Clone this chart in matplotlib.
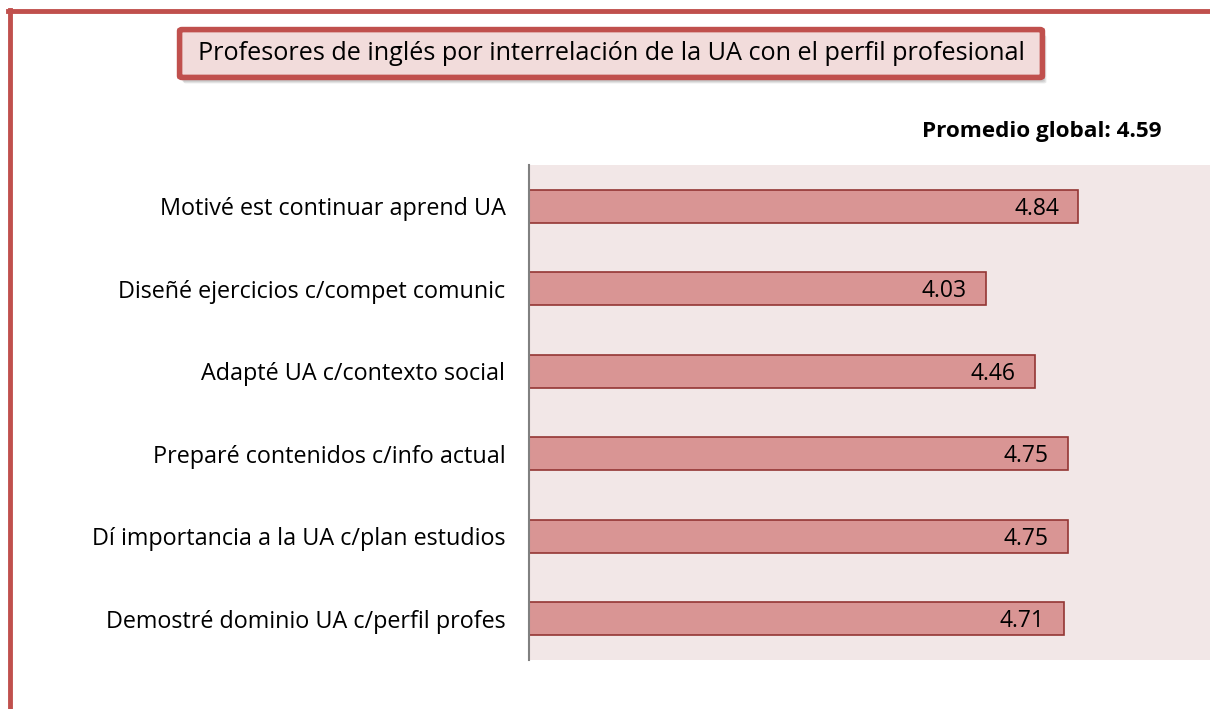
import matplotlib.pyplot as plt
from matplotlib.patches import FancyBboxPatch
from matplotlib.lines import Line2D

categorias = [
    "Motivé est continuar aprend UA",
    "Diseñé ejercicios c/compet comunic",
    "Adapté UA c/contexto social",
    "Preparé contenidos c/info actual",
    "Dí importancia a la UA c/plan estudios",
    "Demostré dominio UA c/perfil profes",
]
valores = [4.84, 4.03, 4.46, 4.75, 4.75, 4.71]
promedio_global = 4.59
titulo = "Profesores de inglés por interrelación de la UA con el perfil profesional"

plt.rcParams['font.family'] = ['Open Sans', 'DejaVu Sans']

W, H = 1210, 709
fig = plt.figure(figsize=(W / 100, H / 100), dpi=100)

# marco rojo exterior (solo izquierda y arriba visibles)
rojo = '#C0504D'
fig.add_artist(Line2D([10 / W, 10 / W], [0, 1 - 10 / H], transform=fig.transFigure, color=rojo, lw=3.5))
fig.add_artist(Line2D([8 / W, 1], [1 - 11 / H, 1 - 11 / H], transform=fig.transFigure, color=rojo, lw=3.5))

ax = fig.add_axes([529 / W, 1 - 660 / H, (W - 529) / W, 495 / H])
ax.set_facecolor('#F2E7E7')

pos = list(range(len(categorias)))
barras = ax.barh(pos, valores, height=0.4, color='#D99594', edgecolor='#943634', linewidth=1.2)
for y, v in zip(pos, valores):
    ax.text(v - 0.17, y + 0.03, f"{v:.2f}", ha='right', va='center', fontsize=16.5, color='black')

ax.set_xlim(0, 6)
ax.set_ylim(len(categorias) - 0.5, -0.5)
ax.set_yticks(pos)
ax.set_yticklabels(categorias, fontsize=16.8)
ax.tick_params(axis='y', length=0, pad=17)
ax.set_xticks([])
for lado in ['top', 'right', 'bottom']:
    ax.spines[lado].set_visible(False)
ax.spines['left'].set_color('#808080')
ax.spines['left'].set_linewidth(1.5)

# caja del titulo con sombra
x0, y0, x1, y1 = 182 / W, 1 - 76 / H, 1040 / W, 1 - 31 / H
for k, a in enumerate([0.12, 0.12, 0.12]):
    d = (k + 2) / W
    sombra = FancyBboxPatch((x0 + d, y0 - (k + 4) / H), x1 - x0, y1 - y0, boxstyle='round,pad=0.002',
                            transform=fig.transFigure, facecolor='#555555', edgecolor='none', alpha=a)
    fig.add_artist(sombra)
caja = FancyBboxPatch((x0, y0), x1 - x0, y1 - y0, boxstyle='round,pad=0.002',
                      transform=fig.transFigure, facecolor='#F2DCDB', edgecolor=rojo, linewidth=4)
fig.add_artist(caja)
fig.text((x0 + x1) / 2, (y0 + y1) / 2, titulo, ha='center', va='center', fontsize=18.2)

fig.text(1162 / W, 1 - 131 / H, f"Promedio global: {promedio_global:.2f}", ha='right', va='center',
         fontsize=16.2, fontweight='bold')

fig.savefig('out.png', dpi=100)
